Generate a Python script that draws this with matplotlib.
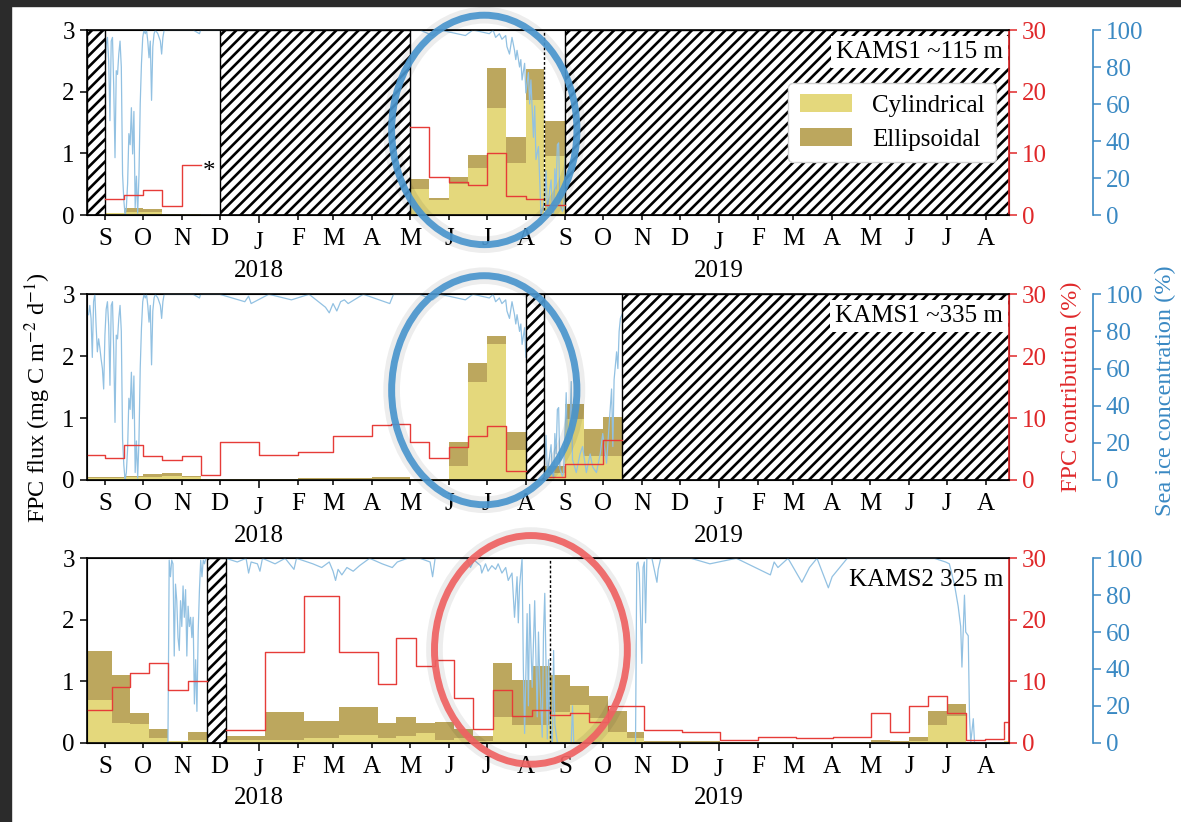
import numpy as np
import pandas as pd
import matplotlib
matplotlib.use('Agg')
import matplotlib.pyplot as plt
import matplotlib.dates as mdates
import matplotlib.transforms as mtransforms
from matplotlib.patches import Ellipse, Rectangle
from matplotlib.ticker import FuncFormatter

nan = np.nan

# Shared time window and year labels
X_START = '2017-08-18'
X_END = '2019-08-19'
YEARS = ['2018', '2019']

# KAMS1 ~115 m: cup edges, cylindrical / ellipsoidal FPC flux, FPC contribution (%)
P1_EDGES = ['2017-09-01', '2017-09-16', '2017-10-01', '2017-10-16', '2017-11-01',
            '2017-11-16', '2018-05-01', '2018-05-16', '2018-06-01', '2018-06-16',
            '2018-07-01', '2018-07-16', '2018-08-01', '2018-08-15', '2018-08-16',
            '2018-09-01']
P1_CYL = [0.03, 0.05, 0.05, 0.01, 0.01, nan, 0.42, 0.24, 0.51, 0.76, 1.73, 0.84, 1.86, nan, 0.95]
P1_ELL = [0.01, 0.07, 0.04, 0.005, 0.005, nan, 0.16, 0.03, 0.10, 0.21, 0.66, 0.42, 0.50, nan, 0.57]
P1_FPC = [2.6, 3.2, 4.1, 1.5, 8.1, nan, 14.2, 6.1, 5.4, 4.9, 10.0, 3.1, 2.6, nan, 1.6]
P1_GAPS = [(X_START, '2017-09-01'), ('2017-12-01', '2018-05-01'), ('2018-09-01', X_END)]
P1_MARKS = ['2018-08-15 12:00']

# KAMS1 ~335 m
P2_EDGES = ['2017-08-18', '2017-09-01', '2017-09-16', '2017-10-01', '2017-10-16',
            '2017-11-01', '2017-11-16', '2017-12-01', '2018-01-01', '2018-02-01',
            '2018-03-01', '2018-04-01', '2018-04-16', '2018-05-01', '2018-05-16',
            '2018-06-01', '2018-06-16', '2018-07-01', '2018-07-16', '2018-08-01',
            '2018-08-15', '2018-09-01', '2018-09-16', '2018-10-01', '2018-10-16']
P2_CYL = [0.03, 0.03, 0.04, 0.05, 0.06, 0.05, 0.01, 0.01, 0.01, 0.015, 0.02, 0.02,
          0.02, 0.01, 0.015, 0.22, 1.58, 2.20, 0.49, nan, 0.11, 0.98, 0.38, 0.38]
P2_ELL = [0.01, 0.01, 0.02, 0.05, 0.06, 0.015, 0.0, 0.005, 0.005, 0.01, 0.015, 0.02,
          0.02, 0.005, 0.005, 0.39, 0.31, 0.13, 0.29, nan, 0.12, 0.25, 0.45, 0.64]
P2_FPC = [4.0, 3.5, 5.7, 3.9, 3.2, 3.9, 0.8, 6.1, 4.1, 4.5, 7.1, 8.9,
          9.1, 6.1, 3.5, 5.4, 7.1, 8.7, 1.5, nan, 0.5, 2.6, 2.6, 6.4]
P2_GAPS = [('2018-08-01', '2018-08-15'), ('2018-10-16', X_END)]
P2_MARKS = []

# KAMS2 325 m
P3_EDGES = ['2017-08-18', '2017-09-07', '2017-09-21', '2017-10-06', '2017-10-21',
            '2017-11-06', '2017-11-21', '2017-12-06', '2018-01-06', '2018-02-06',
            '2018-03-06', '2018-04-06', '2018-04-20', '2018-05-06', '2018-05-21',
            '2018-06-05', '2018-06-20', '2018-07-06', '2018-07-21', '2018-08-06',
            '2018-08-20', '2018-09-05', '2018-09-20', '2018-10-05', '2018-10-20',
            '2018-11-03', '2018-12-03', '2019-01-02', '2019-02-01', '2019-03-03',
            '2019-04-02', '2019-05-02', '2019-05-17', '2019-06-01', '2019-06-16',
            '2019-07-01', '2019-07-16', '2019-07-31', '2019-08-15', '2019-08-19']
P3_CYL = [0.69, 0.32, 0.30, 0.08, 0.02, 0.05, nan, 0.04, 0.05, 0.07, 0.12, 0.08, 0.11,
          0.15, 0.04, 0.08, 0.03, 0.42, 0.29, 0.29, 0.50, 0.61, 0.40, 0.18, 0.07,
          0.01, 0.01, 0.005, 0.005, 0.005, 0.005, 0.01, 0.01, 0.03, 0.28, 0.44,
          0.005, 0.005, 0.03]
P3_ELL = [0.80, 0.78, 0.19, 0.15, 0.01, 0.12, nan, 0.07, 0.45, 0.28, 0.46, 0.24, 0.31,
          0.17, 0.29, 0.14, 0.08, 0.88, 0.73, 0.96, 0.60, 0.32, 0.36, 0.34, 0.11,
          0.01, 0.02, 0.005, 0.005, 0.005, 0.005, 0.03, 0.01, 0.07, 0.23, 0.19,
          0.0, 0.0, 0.0]
P3_FPC = [5.3, 9.0, 11.4, 13.0, 8.5, 10.1, nan, 2.1, 14.8, 23.9, 14.8, 9.6, 17.0,
          12.4, 13.4, 7.2, 2.2, 8.5, 4.4, 5.3, 4.5, 4.8, 3.3, 6.0, 5.9,
          2.0, 1.8, 0.4, 1.0, 0.8, 1.0, 4.9, 1.8, 6.0, 7.6, 4.8,
          0.4, 0.6, 3.4]
P3_GAPS = [('2017-11-21', '2017-12-06')]
P3_MARKS = ['2018-08-20']

# Daily sea ice concentration (%) above KAMS1
KAMS1_ICE_DATES = [
    '2017-08-19', '2017-08-20', '2017-08-21', '2017-08-22', '2017-08-23', '2017-08-24',
    '2017-08-25', '2017-08-26', '2017-08-27', '2017-08-28', '2017-08-29', '2017-08-30',
    '2017-08-31', '2017-09-01', '2017-09-02', '2017-09-03', '2017-09-04', '2017-09-05',
    '2017-09-06', '2017-09-07', '2017-09-08', '2017-09-09', '2017-09-10', '2017-09-11',
    '2017-09-12', '2017-09-13', '2017-09-14', '2017-09-15', '2017-09-16', '2017-09-17',
    '2017-09-18', '2017-09-19', '2017-09-20', '2017-09-21', '2017-09-22', '2017-09-23',
    '2017-09-24', '2017-09-25', '2017-09-26', '2017-09-27', '2017-09-28', '2017-09-29',
    '2017-09-30', '2017-10-01', '2017-10-02', '2017-10-03', '2017-10-04', '2017-10-05',
    '2017-10-06', '2017-10-07', '2017-10-08', '2017-10-09', '2017-10-10', '2017-10-11',
    '2017-10-13', '2017-10-15', '2017-10-16', '2017-10-17', '2017-10-18', '2017-10-25',
    '2017-10-31', '2017-11-10', '2017-11-15', '2017-11-16', '2017-12-01', '2017-12-21',
    '2017-12-24', '2017-12-26', '2018-01-09', '2018-01-27', '2018-02-10', '2018-02-23',
    '2018-02-26', '2018-03-01', '2018-03-04', '2018-03-07', '2018-03-10', '2018-03-13',
    '2018-03-25', '2018-04-15', '2018-04-18', '2018-05-09', '2018-05-19', '2018-05-25',
    '2018-06-14', '2018-06-20', '2018-07-03', '2018-07-06', '2018-07-08', '2018-07-11',
    '2018-07-13', '2018-07-16', '2018-07-17', '2018-07-19', '2018-07-21', '2018-07-23',
    '2018-07-24', '2018-07-25', '2018-07-27', '2018-07-28', '2018-07-29', '2018-07-31',
    '2018-08-01', '2018-08-03', '2018-08-04', '2018-08-05', '2018-08-07', '2018-08-08',
    '2018-08-09', '2018-08-11', '2018-08-12', '2018-08-13', '2018-08-15', '2018-08-16',
    '2018-08-17', '2018-08-18', '2018-08-19', '2018-08-20', '2018-08-21', '2018-08-22',
    '2018-08-23', '2018-08-24', '2018-08-25', '2018-08-26', '2018-08-27', '2018-08-28',
    '2018-08-30', '2018-08-31', '2018-09-02', '2018-09-03', '2018-09-05', '2018-09-06',
    '2018-09-07', '2018-09-10', '2018-09-13', '2018-09-15', '2018-09-18', '2018-09-21',
    '2018-09-23', '2018-09-26', '2018-09-29', '2018-10-01', '2018-10-04', '2018-10-06',
    '2018-10-08', '2018-10-09', '2018-10-10', '2018-10-12', '2018-10-13', '2018-10-14',
    '2018-10-15', '2018-10-20']
KAMS1_ICE = [
    89, 94, 87, 66, 96, 100, 83, 69, 76, 71, 65, 60,
    49, 78, 92, 96, 83, 51, 94, 96, 69, 31, 78, 76,
    87, 94, 80, 22, 8, 0, 4, 17, 44, 38, 58, 33,
    56, 4, 21, 1, 21, 60, 82, 96, 100, 98, 100, 94,
    85, 94, 62, 91, 98, 100, 98, 94, 87, 96, 100, 100,
    100, 100, 98, 100, 100, 96, 99, 95, 100, 97, 100, 93,
    90, 95, 91, 96, 97, 95, 100, 95, 100, 100, 97, 100,
    97, 100, 98, 100, 96, 98, 95, 97, 91, 87, 96, 89,
    84, 89, 80, 84, 73, 82, 66, 77, 60, 73, 42, 59,
    30, 37, 19, 0, 5, 10, 24, 4, 8, 14, 19, 4,
    1, 25, 14, 38, 39, 6, 2, 4, 47, 18, 29, 53,
    11, 4, 14, 18, 4, 14, 7, 4, 14, 25, 9, 29,
    49, 18, 54, 69, 60, 80, 87, 95]

# Daily sea ice concentration (%) above KAMS2
KAMS2_ICE_DATES = [
    '2017-10-20', '2017-10-21', '2017-10-22', '2017-10-23', '2017-10-24', '2017-10-25',
    '2017-10-26', '2017-10-27', '2017-10-28', '2017-10-29', '2017-10-30', '2017-10-31',
    '2017-11-01', '2017-11-02', '2017-11-03', '2017-11-04', '2017-11-05', '2017-11-06',
    '2017-11-07', '2017-11-08', '2017-11-09', '2017-11-10', '2017-11-11', '2017-11-12',
    '2017-11-13', '2017-11-14', '2017-11-15', '2017-11-16', '2017-11-17', '2017-11-18',
    '2017-11-19', '2017-11-20', '2017-12-06', '2017-12-15', '2017-12-22', '2017-12-24',
    '2017-12-26', '2017-12-31', '2018-01-02', '2018-01-04', '2018-01-14', '2018-01-22',
    '2018-01-29', '2018-01-31', '2018-02-13', '2018-02-20', '2018-02-26', '2018-03-01',
    '2018-03-03', '2018-03-05', '2018-03-08', '2018-03-12', '2018-03-17', '2018-03-22',
    '2018-03-30', '2018-04-09', '2018-04-17', '2018-04-21', '2018-04-29', '2018-05-09',
    '2018-05-17', '2018-05-19', '2018-05-21', '2018-06-04', '2018-06-15', '2018-06-18',
    '2018-06-21', '2018-06-26', '2018-06-27', '2018-06-30', '2018-07-02', '2018-07-05',
    '2018-07-08', '2018-07-10', '2018-07-13', '2018-07-16', '2018-07-18', '2018-07-21',
    '2018-07-23', '2018-07-25', '2018-07-26', '2018-07-27', '2018-07-29', '2018-07-30',
    '2018-07-31', '2018-08-02', '2018-08-03', '2018-08-04', '2018-08-06', '2018-08-08',
    '2018-08-10', '2018-08-11', '2018-08-12', '2018-08-14', '2018-08-15', '2018-08-16',
    '2018-08-18', '2018-08-19', '2018-08-20', '2018-08-22', '2018-08-23', '2018-08-24',
    '2018-08-26', '2018-09-06', '2018-09-07', '2018-09-08', '2018-10-27', '2018-10-28',
    '2018-10-29', '2018-10-30', '2018-11-01', '2018-11-02', '2018-11-03', '2018-11-04',
    '2018-11-05', '2018-11-09', '2018-11-13', '2018-11-14', '2018-11-16', '2018-12-10',
    '2018-12-25', '2019-01-15', '2019-02-11', '2019-02-14', '2019-02-17', '2019-02-25',
    '2019-03-08', '2019-03-14', '2019-03-20', '2019-03-29', '2019-04-01', '2019-04-07',
    '2019-04-13', '2019-05-10', '2019-06-01', '2019-06-21', '2019-06-30', '2019-07-03',
    '2019-07-07', '2019-07-10', '2019-07-12', '2019-07-13', '2019-07-15', '2019-07-16',
    '2019-07-18', '2019-07-19', '2019-07-20', '2019-07-22', '2019-07-23', '2019-08-19']
KAMS2_ICE = [
    0, 0, 99, 90, 99, 97,
    47, 86, 77, 57, 50, 77,
    63, 85, 68, 83, 47, 74,
    63, 68, 57, 68, 21, 45,
    17, 60, 83, 99, 90, 99,
    97, 100, 100, 98, 100, 92,
    98, 97, 93, 100, 97, 100,
    94, 100, 97, 95, 98, 93,
    88, 94, 91, 95, 93, 96,
    100, 97, 95, 98, 100, 100,
    98, 90, 100, 100, 100, 95,
    99, 96, 92, 97, 93, 96,
    94, 97, 92, 95, 88, 92,
    68, 90, 65, 85, 100, 40,
    5, 70, 20, 75, 30, 77,
    14, 60, 35, 3, 60, 81,
    2, 45, 10, 0, 50, 10,
    0, 0, 20, 0, 0, 97,
    98, 92, 43, 95, 98, 65,
    100, 100, 87, 94, 100, 100,
    97, 100, 91, 98, 95, 100,
    87, 95, 100, 84, 90, 95,
    100, 100, 100, 100, 98, 97,
    86, 74, 63, 41, 80, 60,
    58, 14, 0, 13, 0, 0]

CONFIG = {
    'figure': {
        'size': (11.81, 8.22),
        'dpi': 100,
        'font_family': ['Liberation Serif', 'DejaVu Serif'],
        'fontsize': 18,
        'label_fontsize': 17.5,
    },
    'axes': {
        'left': 0.0739,
        'width': 0.7801,
        'bottoms': [0.7384, 0.4161, 0.0965],
        'heights': [0.2251, 0.2259, 0.2243],
        'ice_spine': 1.0914,
    },
    'colors': {
        'cyl': '#e4d87c',
        'ell': '#bca75e',
        'fpc': '#e63c38',
        'fpc_axis': '#e0282a',
        'ice': '#92c1e2',
        'ice_axis': '#3a89c3',
        'frame': '#2b2b2b',
    },
    'hatch': '///',
    'hatch_lw': 1.9,
}

# Highlight circles: (panel, centre date, centre flux, width in days, height in flux units, colour)
CIRCLES = [
    (0, '2018-06-29', 1.38, 147, 3.72, '#4a95cd'),
    (1, '2018-06-29', 1.45, 147, 3.70, '#4a95cd'),
    (2, '2018-08-05', 1.51, 153, 3.72, '#ef6262'),
]


def to_num(dates):
    """Convert date strings to matplotlib date numbers"""
    return mdates.date2num(pd.to_datetime(dates))


def month_letter(value, pos):
    return mdates.num2date(value).strftime('%b')[0]


def setup_time_axis(ax, cfg):
    """Month letters on the bottom axis with a longer tick at each January"""
    fs = cfg['figure']['fontsize']
    ax.set_xlim(to_num(X_START), to_num(X_END))
    ax.xaxis.set_major_locator(mdates.MonthLocator(bymonth=1))
    ax.xaxis.set_minor_locator(mdates.MonthLocator(bymonth=range(2, 13)))
    ax.xaxis.set_major_formatter(FuncFormatter(month_letter))
    ax.xaxis.set_minor_formatter(FuncFormatter(month_letter))
    ax.tick_params(axis='x', which='major', length=6, width=1.1, pad=6, labelsize=fs)
    ax.tick_params(axis='x', which='minor', length=3.5, width=1.1, pad=6, labelsize=fs)
    trans = mtransforms.blended_transform_factory(ax.transData, ax.transAxes)
    for year in YEARS:
        ax.text(to_num(year + '-01-01'), -0.335, year, transform=trans,
                ha='center', va='baseline', fontsize=fs)


def draw_panel(ax, panel, cfg):
    """Draw flux bars, FPC contribution, sea ice and data gaps for one mooring"""
    col = cfg['colors']
    fs = cfg['figure']['fontsize']

    ax2 = ax.twinx()
    ax3 = ax.twinx()
    ax.set_zorder(1)
    ax3.set_zorder(2)
    ax2.set_zorder(3)

    # Stacked FPC flux bars
    x = to_num(panel['edges'])
    left, width = x[:-1], np.diff(x)
    cyl = np.array(panel['cyl'], dtype=float)
    ell = np.array(panel['ell'], dtype=float)
    ok = ~np.isnan(cyl)
    ax.bar(left[ok], cyl[ok], width[ok], align='edge', color=col['cyl'], lw=0,
           label='Cylindrical')
    ax.bar(left[ok], ell[ok], width[ok], bottom=cyl[ok], align='edge', color=col['ell'],
           lw=0, label='Ellipsoidal')
    ax.set_ylim(0, 3)
    ax.set_yticks([0, 1, 2, 3])
    ax.tick_params(axis='y', length=5, width=1.1, pad=4, labelsize=fs)
    setup_time_axis(ax, cfg)

    # Sea ice concentration and hatched gaps
    ax3.plot(to_num(panel['ice_dates']), panel['ice'], color=col['ice'], lw=0.9, zorder=2)
    for start, end in panel['gaps']:
        ax3.axvspan(to_num(start), to_num(end), facecolor='white', edgecolor='black',
                    hatch=cfg['hatch'], lw=1.0, zorder=3)
    ax3.set_ylim(0, 100)
    ax3.set_yticks(range(0, 101, 20))
    ax3.spines['right'].set_position(('axes', cfg['axes']['ice_spine']))
    ax3.spines['right'].set_color(col['ice_axis'])
    ax3.spines['right'].set_linewidth(1.2)
    for side in ['left', 'top', 'bottom']:
        ax3.spines[side].set_visible(False)
    ax3.tick_params(axis='y', colors=col['ice_axis'], length=5.5, width=1.1, pad=4,
                    labelsize=fs)

    # FPC contribution step line
    fpc = np.array(panel['fpc'], dtype=float)
    ax2.step(x, np.r_[fpc, fpc[-1]], where='post', color=col['fpc'], lw=1.0)
    for mark in panel['marks']:
        ax2.axvline(to_num(mark), color='black', lw=1.0, ls=(0, (2, 1.5)))
    ax2.set_ylim(0, 30)
    ax2.set_yticks([0, 10, 20, 30])
    ax2.spines['right'].set_color(col['fpc_axis'])
    ax2.spines['right'].set_linewidth(1.2)
    for side in ['left', 'top', 'bottom']:
        ax2.spines[side].set_linewidth(1.2)
    ax2.tick_params(axis='y', colors=col['fpc_axis'], length=5.5, width=1.1, pad=4,
                    labelsize=fs)

    box = dict(boxstyle='square,pad=0.2', fc='white', ec='none') if panel['boxed'] else None
    ax2.text(0.9939, 0.85, panel['title'], transform=ax2.transAxes, ha='right',
             va='baseline', fontsize=fs, bbox=box, zorder=6)
    return ax2


def main():
    cfg = CONFIG
    plt.rcParams['font.family'] = cfg['figure']['font_family']
    plt.rcParams['mathtext.fontset'] = 'stix'
    plt.rcParams['hatch.linewidth'] = cfg['hatch_lw']

    panels = [
        dict(edges=P1_EDGES, cyl=P1_CYL, ell=P1_ELL, fpc=P1_FPC, gaps=P1_GAPS,
             marks=P1_MARKS, ice_dates=KAMS1_ICE_DATES, ice=KAMS1_ICE,
             title='KAMS1 ~115 m', boxed=True),
        dict(edges=P2_EDGES, cyl=P2_CYL, ell=P2_ELL, fpc=P2_FPC, gaps=P2_GAPS,
             marks=P2_MARKS, ice_dates=KAMS1_ICE_DATES, ice=KAMS1_ICE,
             title='KAMS1 ~335 m', boxed=True),
        dict(edges=P3_EDGES, cyl=P3_CYL, ell=P3_ELL, fpc=P3_FPC, gaps=P3_GAPS,
             marks=P3_MARKS, ice_dates=KAMS2_ICE_DATES, ice=KAMS2_ICE,
             title='KAMS2 325 m', boxed=False),
    ]

    fig = plt.figure(figsize=cfg['figure']['size'], dpi=cfg['figure']['dpi'])
    fs = cfg['figure']['fontsize']
    lfs = cfg['figure']['label_fontsize']
    a = cfg['axes']
    axes, tops = [], []
    for i, panel in enumerate(panels):
        ax = fig.add_axes([a['left'], a['bottoms'][i], a['width'], a['heights'][i]])
        top = draw_panel(ax, panel, cfg)
        axes.append(ax)
        tops.append(top)

    # Legend and asterisk in the upper panel
    handles, labels = axes[0].get_legend_handles_labels()
    tops[0].legend(handles, labels, loc='upper right', bbox_to_anchor=(0.9863, 0.7135),
                   borderaxespad=0, fontsize=fs, handlelength=2.1, handleheight=0.7,
                   handletextpad=0.8, labelspacing=0.45, borderpad=0.45, framealpha=1,
                   edgecolor='#d0d0d0', fancybox=True)
    axes[0].text(to_num('2017-11-23'), 0.70, '*', ha='center', va='center', fontsize=fs)

    # Highlight circles
    for idx, date, yc, w, h, color in CIRCLES:
        tops[idx].add_patch(Ellipse((to_num(date), yc), w, h, transform=axes[idx].transData,
                                    fill=False, ec='black', lw=12, alpha=0.07,
                                    clip_on=False, zorder=9))
        tops[idx].add_patch(Ellipse((to_num(date), yc), w, h, transform=axes[idx].transData,
                                    fill=False, ec=color, lw=5, alpha=0.92,
                                    clip_on=False, zorder=10))

    # Shared axis labels
    fig.text(0.032, 0.517, r'FPC flux (mg C m$^{-2}$ d$^{-1}$)', rotation=90,
             ha='center', va='center', fontsize=lfs)
    fig.text(0.907, 0.530, 'FPC contribution (%)', rotation=90, ha='center', va='center',
             fontsize=lfs, color=cfg['colors']['fpc_axis'])
    fig.text(0.987, 0.525, 'Sea ice concentration (%)', rotation=90, ha='center',
             va='center', fontsize=lfs, color=cfg['colors']['ice_axis'])

    # Dark screenshot frame on the top and left edges
    fig.add_artist(Rectangle((0, 1 - 6 / 822), 1, 6 / 822, transform=fig.transFigure,
                             color=cfg['colors']['frame'], zorder=20))
    fig.add_artist(Rectangle((0, 0), 11 / 1181, 1, transform=fig.transFigure,
                             color=cfg['colors']['frame'], zorder=20))

    fig.savefig('out.png', dpi=cfg['figure']['dpi'])


if __name__ == "__main__":
    main()
